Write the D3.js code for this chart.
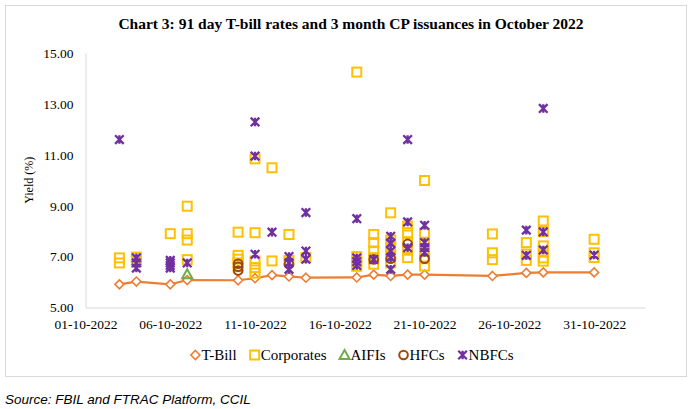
<!DOCTYPE html>
<html>
<head>
<meta charset="utf-8">
<script src="https://cdn.jsdelivr.net/npm/d3@7"></script>
<style>
  body { margin: 0; background: #fff; }
</style>
</head>
<body>
<div id="chart"></div>
<script>
// tick labels
const xTicks = ["01-10-2022", "06-10-2022", "11-10-2022", "16-10-2022", "21-10-2022", "26-10-2022", "31-10-2022"];
const yTicks = [5, 7, 9, 11, 13, 15];

// 91 day T-bill rate
const tbill = [
  ["03-10-2022", 5.91], ["04-10-2022", 6.02], ["06-10-2022", 5.91], ["07-10-2022", 6.08],
  ["10-10-2022", 6.07], ["11-10-2022", 6.15], ["12-10-2022", 6.27], ["13-10-2022", 6.22],
  ["14-10-2022", 6.17], ["17-10-2022", 6.18], ["18-10-2022", 6.29], ["19-10-2022", 6.24],
  ["20-10-2022", 6.29], ["21-10-2022", 6.29], ["25-10-2022", 6.24], ["27-10-2022", 6.36],
  ["28-10-2022", 6.38], ["31-10-2022", 6.38]
];

// CP issuances by issuer type
const corporates = [
  ["03-10-2022", 6.95], ["03-10-2022", 6.75],
  ["04-10-2022", 6.98], ["04-10-2022", 6.8],
  ["06-10-2022", 7.9],
  ["07-10-2022", 8.98], ["07-10-2022", 7.9], ["07-10-2022", 7.65], ["07-10-2022", 6.88],
  ["10-10-2022", 7.96], ["10-10-2022", 7.05], ["10-10-2022", 6.9], ["10-10-2022", 6.75], ["10-10-2022", 6.6],
  ["11-10-2022", 10.84], ["11-10-2022", 7.94], ["11-10-2022", 6.83], ["11-10-2022", 6.57], ["11-10-2022", 6.35],
  ["12-10-2022", 10.49], ["12-10-2022", 6.83],
  ["13-10-2022", 7.87], ["13-10-2022", 6.85],
  ["14-10-2022", 6.96],
  ["17-10-2022", 14.25], ["17-10-2022", 7.0], ["17-10-2022", 6.8], ["17-10-2022", 6.62],
  ["18-10-2022", 7.87], ["18-10-2022", 7.55], ["18-10-2022", 7.22], ["18-10-2022", 6.96], ["18-10-2022", 6.7],
  ["19-10-2022", 8.72], ["19-10-2022", 7.65], ["19-10-2022", 7.35], ["19-10-2022", 7.05], ["19-10-2022", 6.75],
  ["20-10-2022", 8.2], ["20-10-2022", 7.94], ["20-10-2022", 7.55], ["20-10-2022", 7.25], ["20-10-2022", 6.96],
  ["21-10-2022", 9.99], ["21-10-2022", 7.92], ["21-10-2022", 7.5], ["21-10-2022", 7.2], ["21-10-2022", 6.92], ["21-10-2022", 6.63],
  ["25-10-2022", 7.89], ["25-10-2022", 7.15], ["25-10-2022", 6.88],
  ["27-10-2022", 7.55], ["27-10-2022", 7.1], ["27-10-2022", 6.85],
  ["28-10-2022", 8.4], ["28-10-2022", 7.98], ["28-10-2022", 7.42], ["28-10-2022", 7.2], ["28-10-2022", 6.95], ["28-10-2022", 6.82],
  ["31-10-2022", 7.68], ["31-10-2022", 7.15], ["31-10-2022", 6.96]
];
const aifis = [["07-10-2022", 6.31]];
const hfcs = [
  ["10-10-2022", 6.72], ["10-10-2022", 6.6], ["10-10-2022", 6.45],
  ["13-10-2022", 6.7], ["18-10-2022", 6.89], ["19-10-2022", 6.92],
  ["20-10-2022", 7.5], ["21-10-2022", 6.92]
];
const nbfcs = [
  ["03-10-2022", 11.6],
  ["04-10-2022", 6.95], ["04-10-2022", 6.75], ["04-10-2022", 6.55],
  ["06-10-2022", 6.85], ["06-10-2022", 6.75], ["06-10-2022", 6.65], ["06-10-2022", 6.55],
  ["07-10-2022", 6.75],
  ["11-10-2022", 12.29], ["11-10-2022", 10.95], ["11-10-2022", 7.09],
  ["12-10-2022", 7.96],
  ["13-10-2022", 7.0], ["13-10-2022", 6.75], ["13-10-2022", 6.5],
  ["14-10-2022", 8.73], ["14-10-2022", 7.22], ["14-10-2022", 6.9],
  ["17-10-2022", 8.49], ["17-10-2022", 6.95], ["17-10-2022", 6.8], ["17-10-2022", 6.65],
  ["18-10-2022", 6.89],
  ["19-10-2022", 7.8], ["19-10-2022", 7.52], ["19-10-2022", 7.22], ["19-10-2022", 6.96], ["19-10-2022", 6.5],
  ["20-10-2022", 11.6], ["20-10-2022", 8.36], ["20-10-2022", 7.35],
  ["21-10-2022", 8.23], ["21-10-2022", 7.55], ["21-10-2022", 7.35], ["21-10-2022", 7.16],
  ["27-10-2022", 8.04], ["27-10-2022", 7.05],
  ["28-10-2022", 12.82], ["28-10-2022", 7.97], ["28-10-2022", 7.26],
  ["31-10-2022", 7.06]
];

const parseDate = d3.timeParse("%d-%m-%Y");
const fmtDate = d3.timeFormat("%d-%m-%Y");
const serif = "'Liberation Serif', 'Times New Roman', serif";

const W = 700, H = 409;
const svg = d3.select("#chart").append("svg")
  .attr("width", W).attr("height", H)
  .attr("font-family", serif);

// outer chart border
svg.append("rect")
  .attr("x", 5.5).attr("y", 5.5)
  .attr("width", 681).attr("height", 371)
  .attr("fill", "#fff").attr("stroke", "#d9d9d9");

svg.append("text")
  .attr("x", 351).attr("y", 29)
  .attr("text-anchor", "middle")
  .attr("font-weight", "bold").attr("font-size", 15.5)
  .text("Chart 3: 91 day T-bill rates and 3 month CP issuances in October 2022");

// scales
const x = d3.scaleTime()
  .domain([parseDate("01-10-2022"), parseDate("03-11-2022")])
  .range([85.5, 645]);
const y = d3.scaleLinear().domain([5, 15]).range([307.5, 53]);

// axes
const xAxis = svg.append("g")
  .attr("transform", `translate(0,${y(5)})`)
  .call(d3.axisBottom(x).tickValues(xTicks.map(parseDate)).tickFormat(fmtDate).tickSize(0).tickPadding(12))
  .attr("font-family", serif).attr("font-size", 13.5);
xAxis.select(".domain").attr("stroke", "#d9d9d9");
xAxis.selectAll("text").attr("fill", "#000");

const yAxis = svg.append("g")
  .attr("transform", `translate(${x.range()[0]},0)`)
  .call(d3.axisLeft(y).tickValues(yTicks).tickFormat(d3.format(".2f")).tickSize(0).tickPadding(12))
  .attr("font-family", serif).attr("font-size", 13.5);
yAxis.select(".domain").attr("stroke", "#d9d9d9");
yAxis.selectAll("text").attr("fill", "#000");

svg.append("text")
  .attr("transform", `translate(33,${(y(5) + y(15)) / 2}) rotate(-90)`)
  .attr("text-anchor", "middle")
  .attr("font-size", 12)
  .text("Yield (%)");

// marker shapes
const colors = { tbill: "#ED7D31", corp: "#FFC000", aifi: "#70AD47", hfc: "#9E480E", nbfc: "#7030A0" };
const star = s => `M${-s},${-s}L${s},${s}M${-s},${s}L${s},${-s}M0,${-s}L0,${s}`;
const shapes = {
  tbill: g => g.append("path").attr("d", "M0,-4.5L4.5,0L0,4.5L-4.5,0Z")
    .attr("fill", "#fff").attr("stroke", colors.tbill).attr("stroke-width", 1.6),
  corp: g => g.append("rect").attr("x", -4.5).attr("y", -4.5).attr("width", 9).attr("height", 9)
    .attr("fill", "none").attr("stroke", colors.corp).attr("stroke-width", 2),
  aifi: g => g.append("path").attr("d", "M0,-5L5,4L-5,4Z")
    .attr("fill", "none").attr("stroke", colors.aifi).attr("stroke-width", 2),
  hfc: g => g.append("circle").attr("r", 4.3)
    .attr("fill", "none").attr("stroke", colors.hfc).attr("stroke-width", 2),
  nbfc: g => g.append("path").attr("d", star(4.3))
    .attr("fill", "none").attr("stroke", colors.nbfc).attr("stroke-width", 2.3)
};

// T-bill line
const line = d3.line().x(d => x(parseDate(d[0]))).y(d => y(d[1]));
svg.append("path").datum(tbill)
  .attr("fill", "none").attr("stroke", colors.tbill).attr("stroke-width", 2.2)
  .attr("d", line);

function drawSeries(data, key) {
  svg.append("g").selectAll("g")
    .data(data).enter().append("g")
    .attr("transform", d => `translate(${x(parseDate(d[0]))},${y(d[1])})`)
    .each(function () { shapes[key](d3.select(this)); });
}
drawSeries(tbill, "tbill");
drawSeries(corporates, "corp");
drawSeries(aifis, "aifi");
drawSeries(hfcs, "hfc");
drawSeries(nbfcs, "nbfc");

// legend
const legendItems = [["T-Bill", "tbill"], ["Corporates", "corp"], ["AIFIs", "aifi"], ["HFCs", "hfc"], ["NBFCs", "nbfc"]];
const legend = svg.append("g");
let lx = 0;
legendItems.forEach(([label, key]) => {
  const item = legend.append("g").attr("transform", `translate(${lx},0)`);
  shapes[key](item.append("g").attr("transform", "translate(5,0)"));
  const t = item.append("text").attr("x", 11).attr("y", 5)
    .attr("font-size", 15).text(label);
  lx += 11 + t.node().getComputedTextLength() + 13;
});
legend.attr("transform", `translate(${352 - (lx - 13) / 2},355)`);

// source note
svg.append("text")
  .attr("x", 5).attr("y", 404)
  .attr("font-family", "'Liberation Sans', Arial, sans-serif")
  .attr("font-style", "italic").attr("font-size", 13.5)
  .text("Source: FBIL and FTRAC Platform, CCIL");
</script>
</body>
</html>
